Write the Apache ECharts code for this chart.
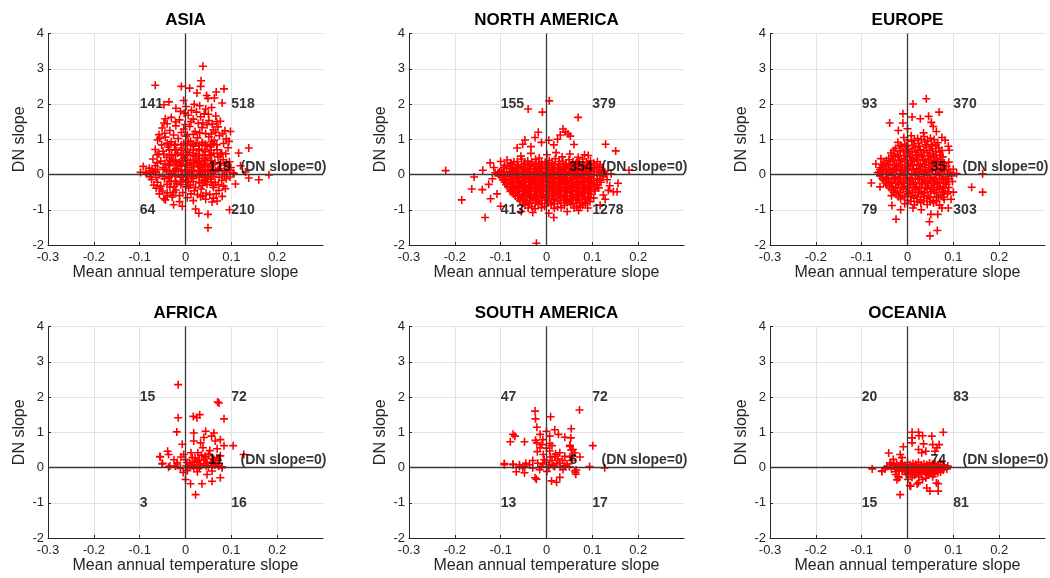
<!DOCTYPE html>
<html><head><meta charset="utf-8">
<script src="https://cdn.jsdelivr.net/npm/echarts@6/dist/echarts.min.js"></script>
<style>html,body{margin:0;padding:0;background:#fff}#c{width:1050px;height:578px}</style>
</head><body><div id="c"></div>
<script>
const regions = ['ASIA','NORTH AMERICA','EUROPE','AFRICA','SOUTH AMERICA','OCEANIA'];
const countsUL = [141,155,93,15,47,20];
const countsUR = [518,379,370,72,72,83];
const countsLL = [64,413,79,3,13,15];
const countsLR = [210,1278,303,16,17,81];
const countsZero = [119,354,35,11,6,74];
const zeroNote = '(DN slope=0)';
const xTicks = [-0.3,-0.2,-0.1,0,0.1,0.2,0.3];
const yTicks = [-2,-1,0,1,2,3,4];

const asiaPts = [
[0.038,3.07],[-0.066,2.53],[-0.009,2.5],[0.009,2.45],[0.034,2.66],[0.033,2.5],[0.084,2.43],[0.067,2.34],[0.046,2.24],[0.049,2.16],[0.025,2.31],[-0.036,2.06],[-0.047,1.98],[-0.004,2.1],[0.08,2.03],[0.063,2.17],[-0.047,1.46],[-0.058,1.13],[-0.056,1.03],[-0.062,0.56],[-0.047,0.57],[-0.092,0.23],[-0.098,0.06],[-0.087,0.06],[-0.076,0.03],[-0.065,0.08],[0.138,0.75],[0.116,0.61],[0.098,1.22],[0.095,0.94],[0.12,0.25],[0.138,-0.1],[0.16,-0.15],[0.182,-0.01],[0.131,0.07],[0.106,0.03],[0.109,-0.27],[0.08,-0.62],[0.096,-1.0],[0.058,-0.78],[0.049,-1.13],[0.049,-1.51],[0.029,-1.1],[0.022,-0.98],[-0.026,-0.86],[-0.007,-0.9],[-0.047,-0.68],[-0.056,-0.4],[-0.04,-0.6],[-0.026,-0.5],
[-0.021,1.88],[0.001,1.93],[0.013,1.82],[0.031,1.95],[0.044,1.86],[0.057,1.9],[0.019,1.99],[-0.011,1.79],
[-0.031,1.62],[-0.013,1.55],[0.006,1.68],[0.017,1.57],[0.033,1.64],[0.051,1.53],[0.066,1.66],[0.041,1.72],[-0.044,1.58],[0.076,1.51],
[-0.051,1.32],[-0.034,1.25],[-0.021,1.38],[-0.004,1.29],[0.009,1.36],[0.021,1.22],[0.036,1.33],[0.047,1.41],[0.061,1.27],[0.071,1.35],[0.086,1.24],[0.028,1.45],
[-0.061,0.98],[-0.044,1.06],[-0.031,0.93],[-0.016,1.02],[0.001,1.09],[0.011,0.95],[0.026,1.04],[0.037,0.91],[0.051,1.07],[0.063,0.97],[0.074,1.1],[0.089,1.01],[0.017,1.14],[0.044,1.16],
[-0.066,0.71],[-0.049,0.66],[-0.038,0.78],[-0.021,0.69],[-0.009,0.75],[0.004,0.63],[0.018,0.8],[0.029,0.72],[0.043,0.65],[0.054,0.79],[0.069,0.7],[0.079,0.61],[0.093,0.76],[0.011,0.84],[0.036,0.86],[0.061,0.87],
[-0.071,0.44],[-0.054,0.38],[-0.041,0.49],[-0.027,0.41],[-0.013,0.35],[-0.002,0.47],[0.011,0.4],[0.021,0.52],[0.035,0.37],[0.047,0.45],[0.057,0.39],[0.071,0.5],[0.082,0.42],[0.096,0.36],[0.004,0.55],[0.029,0.46],[0.052,0.56],
[-0.079,0.18],[-0.066,0.25],[-0.049,0.2],[-0.037,0.29],[-0.021,0.16],[-0.011,0.24],[0.003,0.3],[0.013,0.19],[0.027,0.26],[0.037,0.15],[0.051,0.22],[0.061,0.29],[0.075,0.17],[0.085,0.27],[0.099,0.2],[0.019,0.32],[0.043,0.31],[0.032,0.21],
[-0.084,0.02],[-0.069,0.07],[-0.057,-0.01],[-0.041,0.09],[-0.031,0.03],[-0.016,0.11],[-0.006,-0.02],[0.008,0.06],[0.018,0.12],[0.032,0.01],[0.042,0.08],[0.056,0.04],[0.066,0.1],[0.08,0.0],[0.09,0.07],[0.104,0.05],[0.024,-0.03],[0.048,0.13],
[-0.074,-0.14],[-0.061,-0.22],[-0.046,-0.12],[-0.031,-0.19],[-0.019,-0.26],[-0.005,-0.15],[0.007,-0.21],[0.017,-0.11],[0.031,-0.24],[0.041,-0.16],[0.055,-0.13],[0.065,-0.23],[0.079,-0.17],[0.089,-0.12],[0.011,-0.3],[0.037,-0.31],
[-0.064,-0.39],[-0.051,-0.47],[-0.034,-0.36],[-0.021,-0.44],[-0.006,-0.51],[0.007,-0.38],[0.019,-0.46],[0.034,-0.41],[0.045,-0.53],[0.061,-0.37],[0.073,-0.45],[0.087,-0.4],[0.026,-0.57],
[-0.044,-0.72],[-0.029,-0.64],[-0.013,-0.77],[0.004,-0.66],[0.017,-0.74],[0.033,-0.63],[0.044,-0.7],[0.061,-0.67],[0.069,-0.75]
];
const asiaCorePts = [
[-0.003,1.74],[0.024,1.77],[0.05,1.71],
[-0.04,1.44],[-0.022,1.49],[-0.001,1.42],[0.012,1.5],[0.038,1.47],[0.058,1.43],[0.068,1.5],
[-0.045,1.17],[-0.026,1.12],[-0.009,1.19],[0.004,1.13],[0.031,1.18],[0.056,1.15],[0.066,1.2],[0.081,1.16],
[-0.052,0.84],[-0.04,0.89],[-0.024,0.83],[-0.004,0.88],[0.006,0.93],[0.023,0.89],[0.047,0.82],[0.057,0.93],[0.068,0.84],[0.083,0.88],
[-0.058,0.58],[-0.03,0.55],[-0.017,0.61],[-0.005,0.56],[0.009,0.62],[0.024,0.59],[0.038,0.55],[0.062,0.6],[0.076,0.56],[0.088,0.59],
[-0.062,0.33],[-0.045,0.31],[-0.032,0.36],[-0.019,0.3],[-0.006,0.37],[0.009,0.33],[0.025,0.35],[0.04,0.3],[0.064,0.34],[0.077,0.31],[0.09,0.33],
[-0.073,0.12],[-0.061,0.14],[-0.045,0.15],[-0.026,0.1],[-0.001,0.13],[0.013,0.09],[0.029,0.11],[0.037,0.07],[0.061,0.08],[0.071,0.14],[0.085,0.11],[0.096,0.12],
[-0.078,-0.06],[-0.064,-0.08],[-0.05,-0.05],[-0.036,-0.09],[-0.022,-0.04],[-0.011,-0.08],[0.002,-0.05],[0.013,-0.07],[0.036,-0.06],[0.047,-0.09],[0.061,-0.05],[0.073,-0.08],[0.085,-0.05],[0.097,-0.07],
[-0.069,-0.3],[-0.054,-0.33],[-0.04,-0.28],[-0.025,-0.34],[-0.01,-0.29],[0.001,-0.35],[0.022,-0.36],[0.047,-0.28],[0.06,-0.31],[0.072,-0.29],[0.083,-0.33],
[-0.057,-0.55],[-0.04,-0.52],[-0.028,-0.58],[-0.013,-0.6],[0.012,-0.55],[0.038,-0.6],[0.053,-0.57],[0.067,-0.55]
];
const asiaDensePts = [
[-0.035,0.85],[-0.022,0.86],[-0.009,0.84],[0.004,0.86],[0.017,0.85],[0.03,0.83],[0.043,0.86],[0.056,0.84],
[-0.035,0.7],[-0.022,0.71],[-0.009,0.69],[0.004,0.71],[0.017,0.7],[0.03,0.68],[0.043,0.71],[0.056,0.69],
[-0.035,0.55],[-0.022,0.56],[-0.009,0.54],[0.004,0.56],[0.017,0.55],[0.03,0.53],[0.043,0.56],[0.056,0.54],
[-0.035,0.4],[-0.022,0.41],[-0.009,0.39],[0.004,0.41],[0.017,0.4],[0.03,0.38],[0.043,0.41],[0.056,0.39],
[-0.035,0.25],[-0.022,0.26],[-0.009,0.24],[0.004,0.26],[0.017,0.25],[0.03,0.23],[0.043,0.26],[0.056,0.24],
[-0.035,0.1],[-0.022,0.11],[-0.009,0.09],[0.004,0.11],[0.017,0.1],[0.03,0.08],[0.043,0.11],[0.056,0.09],
[-0.035,-0.05],[-0.022,-0.04],[-0.009,-0.06],[0.004,-0.04],[0.017,-0.05],[0.03,-0.07],[0.043,-0.04],[0.056,-0.06],
[-0.035,-0.2],[-0.022,-0.19],[-0.009,-0.21],[0.004,-0.19],[0.017,-0.2],[0.03,-0.22],[0.043,-0.19],[0.056,-0.21]
];

const northAmericaPts = [
[0.006,2.09],[-0.04,1.86],[-0.009,1.77],[0.069,1.62],[-0.22,0.11],[-0.185,-0.72],[-0.163,-0.41],[-0.158,-0.07],[-0.139,0.12],[-0.14,-0.43],[-0.134,-1.22],[-0.122,-0.69],[-0.123,0.33],[-0.126,-0.28],[-0.1,0.37],[-0.1,-0.9],[-0.022,-1.95],[0.016,-1.22],[0.129,0.86],[0.151,0.67],[0.156,-0.25],[0.154,-0.49],[0.146,-0.49],[0.135,-0.45],[0.124,-0.58],[0.117,-0.87],[0.109,-0.3],[0.095,-0.77],[0.036,1.29],[0.047,1.15],[0.024,1.0],[0.016,0.84],[-0.025,1.05],[-0.052,0.86],[-0.047,0.98],[-0.018,1.2],[-0.064,0.75],[0.083,0.56],[0.06,0.85],[0.18,0.12],
[0.041,1.21],[0.052,1.09],[0.03,1.12],[-0.034,0.79],[-0.011,0.91],[0.005,0.97],[-0.118,-0.12],[-0.112,0.05],[-0.108,-0.55],[-0.115,0.2],[0.132,-0.15],[0.141,0.02],[0.128,-0.7],[0.138,-0.32],[-0.055,-1.05],[0.005,-1.1],[0.045,-1.05],[0.07,-1.02],[-0.03,-1.08],[0.09,-0.95],
[-0.056,0.52],[-0.034,0.6],[-0.016,0.47],[0.001,0.56],[0.021,0.62],[0.034,0.5],[0.051,0.58],[0.069,0.49],[0.091,0.54],
[-0.086,0.41],[-0.071,0.36],[-0.054,0.44],[-0.041,0.38],[-0.024,0.43],[-0.011,0.35],[0.006,0.4],[0.019,0.45],[0.036,0.37],[0.049,0.42],[0.066,0.35],[0.079,0.44],[0.096,0.39],[0.111,0.36],
[-0.091,0.26],[-0.077,0.3],[-0.061,0.23],[-0.049,0.29],[-0.038,0.25],[-0.023,0.31],[-0.013,0.22],[0.001,0.28],[0.012,0.24],[0.027,0.3],[0.038,0.23],[0.053,0.27],[0.064,0.31],[0.079,0.24],[0.09,0.29],[0.105,0.25],[0.117,0.28],
[-0.099,0.12],[-0.087,0.17],[-0.072,0.11],[-0.061,0.15],[-0.046,0.1],[-0.035,0.16],[-0.02,0.13],[-0.009,0.18],[0.006,0.11],[0.017,0.15],[0.032,0.12],[0.043,0.17],[0.058,0.1],[0.069,0.14],[0.084,0.18],[0.095,0.11],[0.11,0.15],[0.121,0.12],
[-0.106,0.03],[-0.091,-0.01],[-0.08,0.05],[-0.065,0.0],[-0.054,0.04],[-0.039,-0.02],[-0.028,0.06],[-0.013,0.01],[-0.002,0.05],[0.013,-0.01],[0.024,0.04],[0.039,0.0],[0.05,0.06],[0.065,0.02],[0.076,-0.02],[0.091,0.04],[0.102,0.0],[0.117,0.05],[0.131,0.01],
[-0.097,-0.09],[-0.086,-0.13],[-0.071,-0.08],[-0.06,-0.12],[-0.045,-0.07],[-0.034,-0.14],[-0.019,-0.1],[-0.008,-0.06],[0.007,-0.12],[0.018,-0.08],[0.033,-0.13],[0.044,-0.09],[0.059,-0.06],[0.07,-0.11],[0.085,-0.14],[0.096,-0.08],[0.111,-0.12],[0.123,-0.07],
[-0.091,-0.22],[-0.078,-0.26],[-0.064,-0.2],[-0.052,-0.25],[-0.038,-0.21],[-0.026,-0.27],[-0.012,-0.23],[0.001,-0.19],[0.014,-0.25],[0.026,-0.21],[0.04,-0.26],[0.052,-0.2],[0.066,-0.24],[0.078,-0.27],[0.092,-0.21],[0.104,-0.25],[0.119,-0.22],
[-0.084,-0.35],[-0.072,-0.39],[-0.058,-0.33],[-0.046,-0.38],[-0.032,-0.34],[-0.02,-0.4],[-0.006,-0.36],[0.007,-0.32],[0.02,-0.38],[0.032,-0.35],[0.046,-0.39],[0.058,-0.33],[0.072,-0.37],[0.084,-0.4],[0.098,-0.34],[0.114,-0.38],
[-0.079,-0.48],[-0.066,-0.52],[-0.052,-0.46],[-0.04,-0.51],[-0.026,-0.47],[-0.014,-0.53],[0.0,-0.49],[0.013,-0.45],[0.026,-0.51],[0.038,-0.48],[0.052,-0.52],[0.064,-0.46],[0.078,-0.5],[0.09,-0.53],[0.106,-0.47],
[-0.068,-0.61],[-0.054,-0.65],[-0.041,-0.59],[-0.027,-0.64],[-0.015,-0.6],[-0.001,-0.66],[0.012,-0.62],[0.025,-0.58],[0.039,-0.64],[0.051,-0.61],[0.065,-0.66],[0.077,-0.6],[0.091,-0.63],[0.103,-0.67],
[-0.058,-0.74],[-0.044,-0.78],[-0.03,-0.72],[-0.017,-0.77],[-0.003,-0.73],[0.011,-0.79],[0.024,-0.75],[0.038,-0.71],[0.051,-0.77],[0.064,-0.74],[0.078,-0.79],[0.089,-0.72],
[-0.047,-0.87],[-0.032,-0.91],[-0.018,-0.85],[-0.004,-0.9],[0.01,-0.86],[0.024,-0.92],[0.039,-0.88],[0.053,-0.84],[0.066,-0.9],[0.079,-0.87]
];
const northAmericaCorePts = [
[-0.078,0.33],[-0.064,0.37],[-0.047,0.32],[-0.032,0.36],[-0.017,0.31],[-0.003,0.35],[0.012,0.33],[0.028,0.37],[0.042,0.31],[0.058,0.36],[0.072,0.32],[0.087,0.35],[0.103,0.32],
[-0.093,0.2],[-0.08,0.22],[-0.066,0.19],[-0.054,0.21],[-0.041,0.19],[-0.028,0.22],[-0.015,0.19],[-0.002,0.21],[0.011,0.19],[0.024,0.2],[0.037,0.18],[0.05,0.21],[0.063,0.19],[0.076,0.22],[0.089,0.2],[0.103,0.19],[0.116,0.21],
[-0.103,0.08],[-0.094,0.06],[-0.079,0.09],[-0.068,0.07],[-0.053,0.09],[-0.041,0.07],[-0.027,0.09],[-0.016,0.07],[-0.001,0.09],[0.01,0.06],[0.025,0.09],[0.037,0.07],[0.051,0.09],[0.063,0.07],[0.078,0.09],[0.089,0.07],[0.104,0.09],[0.115,0.07],[0.127,0.08],
[-0.102,-0.04],[-0.085,-0.05],[-0.073,-0.03],[-0.059,-0.05],[-0.046,-0.03],[-0.033,-0.05],[-0.02,-0.03],[-0.007,-0.04],[0.006,-0.05],[0.019,-0.03],[0.032,-0.05],[0.045,-0.03],[0.058,-0.04],[0.071,-0.05],[0.084,-0.03],[0.097,-0.05],[0.11,-0.03],[0.124,-0.04],
[-0.094,-0.16],[-0.079,-0.17],[-0.066,-0.15],[-0.053,-0.17],[-0.04,-0.15],[-0.027,-0.17],[-0.014,-0.16],[-0.001,-0.15],[0.012,-0.17],[0.025,-0.15],[0.038,-0.17],[0.051,-0.16],[0.064,-0.15],[0.077,-0.17],[0.09,-0.15],[0.103,-0.17],[0.116,-0.16],
[-0.088,-0.29],[-0.071,-0.3],[-0.058,-0.28],[-0.045,-0.3],[-0.032,-0.28],[-0.019,-0.3],[-0.006,-0.29],[0.007,-0.27],[0.02,-0.3],[0.033,-0.28],[0.046,-0.3],[0.059,-0.29],[0.072,-0.28],[0.085,-0.3],[0.098,-0.28],[0.111,-0.3],
[-0.079,-0.42],[-0.065,-0.43],[-0.052,-0.41],[-0.039,-0.43],[-0.026,-0.41],[-0.013,-0.43],[0.0,-0.42],[0.013,-0.4],[0.026,-0.43],[0.039,-0.41],[0.052,-0.43],[0.065,-0.42],[0.078,-0.41],[0.091,-0.43],[0.104,-0.42],
[-0.072,-0.55],[-0.059,-0.56],[-0.046,-0.54],[-0.033,-0.56],[-0.02,-0.54],[-0.007,-0.56],[0.006,-0.55],[0.019,-0.53],[0.032,-0.56],[0.045,-0.54],[0.058,-0.56],[0.071,-0.55],[0.084,-0.54],[0.097,-0.56],
[-0.062,-0.68],[-0.049,-0.69],[-0.036,-0.67],[-0.023,-0.69],[-0.01,-0.67],[0.004,-0.69],[0.017,-0.68],[0.03,-0.66],[0.044,-0.69],[0.057,-0.67],[0.07,-0.69],[0.084,-0.68],[0.096,-0.66],
[-0.051,-0.81],[-0.037,-0.82],[-0.024,-0.8],[-0.01,-0.82],[0.004,-0.8],[0.017,-0.83],[0.031,-0.81],[0.045,-0.79],[0.058,-0.82],[0.072,-0.8],[0.085,-0.82],
[-0.04,-0.95],[-0.025,-0.97],[-0.011,-0.94],[0.017,-0.96],[0.032,-0.94],[0.06,-0.95],[0.074,-0.93]
];
const northAmericaDensePts = [
[-0.075,0.28],[-0.062,0.27],[-0.049,0.29],[-0.036,0.28],[-0.023,0.27],[-0.01,0.29],[0.003,0.28],[0.016,0.27],[0.029,0.29],[0.042,0.28],[0.055,0.27],[0.068,0.29],[0.081,0.28],[0.094,0.27],
[-0.075,0.15],[-0.062,0.14],[-0.049,0.16],[-0.036,0.15],[-0.023,0.14],[-0.01,0.16],[0.003,0.15],[0.016,0.14],[0.029,0.16],[0.042,0.15],[0.055,0.14],[0.068,0.16],[0.081,0.15],[0.094,0.14],
[-0.075,0.02],[-0.062,0.01],[-0.049,0.03],[-0.036,0.02],[-0.023,0.01],[-0.01,0.03],[0.003,0.02],[0.016,0.01],[0.029,0.03],[0.042,0.02],[0.055,0.01],[0.068,0.03],[0.081,0.02],[0.094,0.01],
[-0.075,-0.1],[-0.062,-0.11],[-0.049,-0.09],[-0.036,-0.1],[-0.023,-0.11],[-0.01,-0.09],[0.003,-0.1],[0.016,-0.11],[0.029,-0.09],[0.042,-0.1],[0.055,-0.11],[0.068,-0.09],[0.081,-0.1],[0.094,-0.11],
[-0.075,-0.22],[-0.062,-0.23],[-0.049,-0.21],[-0.036,-0.22],[-0.023,-0.23],[-0.01,-0.21],[0.003,-0.22],[0.016,-0.23],[0.029,-0.21],[0.042,-0.22],[0.055,-0.23],[0.068,-0.21],[0.081,-0.22],[0.094,-0.23],
[-0.075,-0.35],[-0.062,-0.36],[-0.049,-0.34],[-0.036,-0.35],[-0.023,-0.36],[-0.01,-0.34],[0.003,-0.35],[0.016,-0.36],[0.029,-0.34],[0.042,-0.35],[0.055,-0.36],[0.068,-0.34],[0.081,-0.35],[0.094,-0.36],
[-0.075,-0.48],[-0.062,-0.49],[-0.049,-0.47],[-0.036,-0.48],[-0.023,-0.49],[-0.01,-0.47],[0.003,-0.48],[0.016,-0.49],[0.029,-0.47],[0.042,-0.48],[0.055,-0.49],[0.068,-0.47],[0.081,-0.48],[0.094,-0.49],
[-0.062,-0.61],[-0.049,-0.6],[-0.036,-0.62],[-0.023,-0.61],[-0.01,-0.6],[0.003,-0.62],[0.016,-0.61],[0.029,-0.6],[0.042,-0.62],[0.055,-0.61],[0.068,-0.6],[0.081,-0.62],
[-0.049,-0.73],[-0.036,-0.74],[-0.023,-0.72],[-0.01,-0.73],[0.003,-0.74],[0.016,-0.72],[0.029,-0.73],[0.042,-0.74],[0.055,-0.72],[0.068,-0.73]
];

const europePts = [
[0.041,2.15],[0.012,2.0],[0.069,1.77],[-0.01,1.72],[-0.039,1.46],[-0.01,1.46],[0.01,1.63],[0.028,1.58],[0.046,1.65],[0.052,1.48],[0.056,1.36],[-0.069,0.3],[-0.079,-0.24],[-0.046,0.14],[-0.046,-0.13],[-0.035,-0.6],[-0.034,-0.88],[-0.025,-1.27],[-0.006,-0.83],[0.048,-1.34],[0.049,-1.74],[0.065,-1.59],[0.051,-1.13],[0.066,-1.13],[0.089,-0.95],[0.107,0.03],[0.14,-0.36],[0.164,0.02],[0.164,-0.5],[0.091,0.69],[0.089,0.8],[0.082,0.97],[0.063,1.22],
[-0.02,1.25],[0.0,1.3],[0.035,1.18],[0.075,1.05],[-0.058,0.45],[-0.065,0.05],[-0.06,-0.35],[0.098,-0.2],[0.1,-0.5],[0.095,-0.7],[0.075,-0.95],[0.03,-1.0],[0.012,-0.95],[-0.015,-1.0],[0.09,0.35],[0.1,0.15],
[-0.008,1.05],[0.008,1.1],[0.022,1.02],[0.036,1.08],[0.05,1.03],
[-0.021,0.91],[-0.006,0.86],[0.009,0.94],[0.024,0.88],[0.038,0.92],[0.052,0.85],[0.066,0.9],
[-0.026,0.74],[-0.012,0.79],[0.002,0.72],[0.015,0.77],[0.028,0.71],[0.041,0.78],[0.054,0.73],[0.068,0.76],
[-0.036,0.61],[-0.022,0.57],[-0.009,0.64],[0.004,0.59],[0.017,0.63],[0.03,0.56],[0.043,0.62],[0.056,0.58],[0.07,0.63],
[-0.041,0.46],[-0.027,0.5],[-0.014,0.44],[-0.001,0.49],[0.012,0.45],[0.025,0.51],[0.038,0.43],[0.051,0.48],[0.064,0.45],[0.077,0.5],
[-0.051,0.33],[-0.037,0.37],[-0.024,0.31],[-0.011,0.36],[0.002,0.32],[0.015,0.38],[0.028,0.3],[0.041,0.35],[0.054,0.32],[0.067,0.37],[0.08,0.31],
[-0.058,0.2],[-0.045,0.24],[-0.032,0.18],[-0.019,0.23],[-0.006,0.19],[0.007,0.25],[0.02,0.17],[0.033,0.22],[0.046,0.19],[0.059,0.24],[0.072,0.18],[0.085,0.23],
[-0.062,0.07],[-0.049,0.11],[-0.036,0.05],[-0.023,0.1],[-0.01,0.06],[0.003,0.12],[0.016,0.04],[0.029,0.09],[0.042,0.06],[0.055,0.11],[0.068,0.05],[0.081,0.1],[0.094,0.06],
[-0.06,-0.04],[-0.047,-0.08],[-0.034,-0.02],[-0.021,-0.07],[-0.008,-0.03],[0.005,-0.09],[0.018,-0.01],[0.031,-0.06],[0.044,-0.03],[0.057,-0.08],[0.07,-0.02],[0.083,-0.07],[0.096,-0.04],
[-0.052,-0.17],[-0.039,-0.21],[-0.026,-0.15],[-0.013,-0.2],[0.0,-0.16],[0.013,-0.22],[0.026,-0.14],[0.039,-0.19],[0.052,-0.16],[0.065,-0.21],[0.078,-0.15],[0.09,-0.2],
[-0.045,-0.3],[-0.032,-0.34],[-0.019,-0.28],[-0.006,-0.33],[0.007,-0.29],[0.02,-0.35],[0.033,-0.27],[0.046,-0.32],[0.059,-0.29],[0.072,-0.34],[0.085,-0.28],
[-0.035,-0.43],[-0.022,-0.47],[-0.009,-0.41],[0.004,-0.46],[0.017,-0.42],[0.03,-0.48],[0.043,-0.4],[0.056,-0.45],[0.069,-0.42],[0.082,-0.47],
[-0.025,-0.56],[-0.011,-0.6],[0.003,-0.54],[0.017,-0.59],[0.031,-0.55],[0.045,-0.61],[0.059,-0.53],[0.073,-0.58],[0.087,-0.55],
[-0.015,-0.69],[0.0,-0.73],[0.014,-0.67],[0.028,-0.72],[0.042,-0.68],[0.056,-0.74],[0.068,-0.66],[0.08,-0.71],
[0.0,-0.82],[0.015,-0.86],[0.029,-0.8],[0.043,-0.85],[0.057,-0.81],[0.07,-0.87]
];
const europeCorePts = [
[0.0,0.98],[0.015,0.97],[0.03,0.99],[0.044,0.96],[0.058,0.99],
[-0.016,0.82],[-0.002,0.81],[0.012,0.83],[0.026,0.8],[0.04,0.84],[0.054,0.81],[0.062,0.83],
[-0.03,0.68],[-0.016,0.67],[-0.003,0.69],[0.01,0.66],[0.023,0.68],[0.036,0.67],[0.049,0.69],[0.062,0.66],[0.075,0.68],
[-0.034,0.54],[-0.02,0.52],[-0.007,0.54],[0.006,0.52],[0.019,0.55],[0.032,0.52],[0.045,0.54],[0.058,0.52],[0.071,0.55],
[-0.046,0.4],[-0.031,0.41],[-0.018,0.39],[-0.005,0.41],[0.008,0.39],[0.021,0.42],[0.034,0.4],[0.047,0.41],[0.06,0.39],[0.073,0.42],
[-0.055,0.27],[-0.041,0.28],[-0.028,0.26],[-0.015,0.27],[-0.002,0.25],[0.011,0.28],[0.024,0.26],[0.037,0.28],[0.05,0.26],[0.063,0.28],[0.076,0.26],
[-0.06,0.14],[-0.052,0.15],[-0.039,0.13],[-0.026,0.15],[-0.013,0.13],[0.0,0.16],[0.013,0.14],[0.026,0.15],[0.039,0.13],[0.052,0.15],[0.065,0.13],[0.078,0.15],[0.09,0.14],
[-0.056,0.01],[-0.043,0.02],[-0.03,0.0],[-0.017,0.02],[-0.004,0.0],[0.009,0.02],[0.022,0.01],[0.035,0.03],[0.048,0.0],[0.061,0.02],[0.074,0.0],[0.087,0.02],
[-0.055,-0.11],[-0.042,-0.12],[-0.029,-0.1],[-0.016,-0.12],[-0.003,-0.1],[0.01,-0.13],[0.023,-0.11],[0.036,-0.12],[0.049,-0.1],[0.062,-0.12],[0.075,-0.11],[0.088,-0.12],
[-0.048,-0.24],[-0.035,-0.25],[-0.022,-0.23],[-0.009,-0.25],[0.004,-0.23],[0.017,-0.26],[0.03,-0.24],[0.043,-0.25],[0.056,-0.23],[0.069,-0.25],[0.082,-0.24],
[-0.04,-0.37],[-0.026,-0.38],[-0.013,-0.36],[0.0,-0.38],[0.013,-0.36],[0.026,-0.39],[0.039,-0.37],[0.052,-0.38],[0.065,-0.36],[0.078,-0.38],[0.09,-0.37],
[-0.03,-0.5],[-0.016,-0.51],[-0.002,-0.49],[0.011,-0.51],[0.024,-0.5],[0.037,-0.52],[0.05,-0.49],[0.063,-0.51],[0.076,-0.5],[0.088,-0.49],
[-0.02,-0.63],[-0.006,-0.64],[0.008,-0.62],[0.022,-0.64],[0.036,-0.62],[0.05,-0.65],[0.064,-0.63],[0.078,-0.64],
[0.007,-0.76],[0.021,-0.77],[0.035,-0.75],[0.049,-0.77],[0.063,-0.76]
];

const africaPts = [
[-0.016,2.35],[0.073,1.83],[0.07,1.86],[0.084,1.38],[-0.016,1.41],[0.017,1.45],[0.031,1.5],[0.025,1.41],[-0.019,1.01],[0.018,0.98],[0.044,1.03],[0.062,0.98],[0.076,0.79],[0.104,0.62],[0.127,0.37],[-0.039,0.46],[-0.037,0.37],[-0.055,0.3],[-0.05,0.12],[-0.034,0.04],[-0.007,0.66],[-0.004,0.37],[0.0,0.22],[0.009,0.13],[0.021,0.27],[0.027,0.42],[0.038,0.56],[0.033,0.7],[0.018,0.75],[0.04,0.85],[0.057,0.89],[0.065,0.75],[0.084,0.62],[0.069,0.53],[0.053,0.48],[0.076,0.33],[0.062,0.22],[0.047,0.13],[0.033,0.04],[0.018,-0.03],[0.004,-0.09],[0.011,0.09],[0.025,0.18],[0.044,0.27],[0.058,0.04],[0.073,0.04],[0.08,0.02],[-0.011,-0.03],[-0.022,0.04],[-0.005,-0.14],
[0.0,-0.34],[0.022,-0.77],[0.011,-0.46],[0.036,-0.46],[0.058,-0.39],[0.076,-0.29],[0.047,-0.2],[0.026,-0.12],[0.058,-0.1],[0.08,-0.005],[-0.056,0.31],[-0.051,0.1],[-0.037,0.01],[-0.018,0.14],[0.003,0.14],[-0.018,0.1],[0.014,0.06],[0.03,0.21],[0.043,0.32],[0.058,0.25],[0.071,0.21],[0.064,0.07],[0.05,0.03],[0.03,-0.01],[0.04,0.11],
[0.02,0.15],[0.03,0.08],[0.04,0.2],[0.045,0.05],[0.055,0.15],[0.065,0.1],[0.015,0.28],[0.035,0.35],[0.05,0.38],[0.06,0.12],[0.025,0.02],[0.008,0.04],[0.072,0.06],[0.068,0.28],[0.012,0.42],[-0.01,0.3],[-0.025,0.22],[0.002,0.05]
];

const southAmericaPts = [
[0.072,1.63],[-0.025,1.6],[-0.024,1.38],[0.009,1.44],[-0.021,1.14],[-0.073,0.94],[-0.069,0.89],[-0.079,0.73],[-0.048,0.73],[-0.024,0.77],[-0.014,0.94],[-0.008,0.79],[0.0,1.03],[0.007,0.89],[0.018,1.07],[0.026,0.94],[0.04,0.86],[0.054,1.1],[0.053,0.84],[0.051,0.6],[0.058,0.51],[0.062,0.42],[0.056,0.32],[0.101,0.62],[0.094,0.03],[0.127,-0.01],[0.065,-0.07],[0.063,-0.14],[-0.092,0.08],[-0.073,0.1],[-0.059,0.08],[-0.048,0.03],[-0.037,0.08],[-0.03,-0.01],[-0.019,0.12],[-0.012,0.03],[0.007,0.08],[0.018,0.03],[0.029,0.12],[0.04,0.05],[0.018,0.32],[0.029,0.42],[0.007,0.47],[-0.007,0.37],[-0.014,0.56],[-0.01,0.65],[-0.021,0.7],[0.007,0.68],
[-0.092,0.11],[-0.073,0.08],[-0.052,-0.01],[-0.048,-0.15],[-0.025,-0.29],[-0.022,-0.33],[0.011,-0.38],[0.022,-0.42],[0.029,-0.28],[0.062,-0.1],[0.064,-0.19],[-0.066,-0.12],[-0.059,0.03],[-0.015,-0.06],[0.001,-0.11],[0.036,-0.06],[0.051,0.3],[0.073,0.3],[0.051,0.63],[0.054,0.5],
[0.0,0.15],[0.012,0.2],[0.022,0.1],[0.005,0.02],[-0.005,0.22],[0.015,0.05],[0.025,0.25],[0.035,0.2],[0.045,0.1],[0.03,0.02],[-0.008,0.1],[0.008,0.3],[0.02,0.38],[0.04,0.32],[-0.02,0.45],[0.0,0.55],[0.012,0.62],[-0.03,0.2],[-0.045,0.12],[0.05,0.02],[0.055,0.2]
];

const oceaniaPts = [
[0.078,1.0],[0.01,1.0],[0.024,1.0],[0.025,0.9],[0.01,0.84],[0.033,0.9],[0.053,0.89],[0.01,0.7],[0.035,0.67],[0.055,0.65],[0.069,0.65],[0.064,0.56],[0.024,0.51],[0.031,0.42],[0.04,0.46],[0.06,0.46],[-0.009,0.59],[-0.016,0.37],[-0.041,0.41],[-0.012,0.28],[-0.031,0.23],[-0.077,-0.04],[-0.056,-0.1],[-0.049,-0.04],[-0.038,0.13],[-0.023,0.08],[-0.012,0.13],[-0.003,-0.2],[0.001,-0.34],[0.005,-0.51],[0.024,-0.43],[0.033,-0.34],[0.067,-0.46],[-0.019,-0.29],[-0.026,-0.2],
[-0.016,-0.77],[0.007,-0.53],[0.042,-0.58],[0.049,-0.67],[0.067,-0.67],[0.063,-0.44],[0.021,-0.47],[-0.023,-0.35],[-0.02,-0.26],[-0.056,-0.11],
[-0.03,0.12],[-0.015,0.1],[0.0,0.14],[0.012,0.11],[0.024,0.15],[0.036,0.1],[0.048,0.13],[0.06,0.11],[0.072,0.14],
[-0.045,0.03],[-0.03,0.05],[-0.018,0.02],[-0.006,0.06],[0.006,0.03],[0.018,0.05],[0.03,0.02],[0.042,0.06],[0.054,0.03],[0.066,0.05],[0.078,0.02],[0.088,0.04],
[-0.035,-0.04],[-0.022,-0.02],[-0.01,-0.05],[0.002,-0.03],[0.014,-0.06],[0.026,-0.02],[0.038,-0.05],[0.05,-0.03],[0.062,-0.06],[0.074,-0.02],[0.086,-0.04],
[-0.025,-0.12],[-0.012,-0.1],[0.0,-0.13],[0.012,-0.11],[0.024,-0.14],[0.036,-0.1],[0.048,-0.13],[0.06,-0.11],[0.072,-0.13],
[0.0,-0.2],[0.015,-0.22],[0.03,-0.19],[0.045,-0.21],[0.058,-0.18],
[0.01,-0.28],[0.025,-0.27],[0.04,-0.3],[0.055,-0.26]
];
const oceaniaCorePts = [
[-0.036,0.08],[-0.024,0.09],[-0.012,0.07],[0.006,0.08],[0.018,0.09],[0.03,0.07],[0.042,0.08],[0.054,0.09],[0.066,0.07],[0.078,0.08],
[-0.028,0.0],[-0.016,-0.01],[-0.004,0.01],[0.008,0.0],[0.02,-0.01],[0.032,0.01],[0.044,0.0],[0.056,-0.01],[0.068,0.01],[0.08,0.0],
[-0.018,-0.08],[-0.006,-0.09],[0.006,-0.07],[0.018,-0.08],[0.03,-0.09],[0.042,-0.07],[0.054,-0.08],[0.066,-0.09],[0.078,-0.07],
[0.006,-0.16],[0.018,-0.17],[0.03,-0.15],[0.042,-0.16],[0.054,-0.17],[0.066,-0.15]
];

const allPts = [
  asiaPts.concat(asiaCorePts, asiaDensePts),
  northAmericaPts.concat(northAmericaCorePts, northAmericaDensePts),
  europePts.concat(europeCorePts),
  africaPts,
  southAmericaPts,
  oceaniaPts.concat(oceaniaCorePts)
];

const FONT = "'Liberation Sans', Arial, Helvetica, sans-serif";
const colLeft = [48, 409, 770];
const rowTop = [33.5, 326.5];
const W = 275, H = 211.5;
const titleTop = [11.5, 304.5];
const AX = '#262626';
const ARM = 4;

function renderCross(params, api) {
  const p = api.coord([api.value(0), api.value(1)]);
  return {
    type: 'path',
    shape: {pathData: 'M' + (p[0] - ARM) + ',' + p[1] + 'L' + (p[0] + ARM) + ',' + p[1] +
                      'M' + p[0] + ',' + (p[1] - ARM) + 'L' + p[0] + ',' + (p[1] + ARM)},
    style: {stroke: '#ff0000', fill: null, lineWidth: 1.6}
  };
}

const grid = [], xAxis = [], yAxis = [], series = [], title = [];
regions.forEach((name, i) => {
  const c = i % 3, r = Math.floor(i / 3);
  grid.push({left: colLeft[c], top: rowTop[r], width: W, height: H, containLabel: false});
  title.push({text: name, left: colLeft[c] + W / 2, top: titleTop[r], textAlign: 'center', padding: 0,
    textStyle: {fontSize: 17, fontWeight: 'bold', color: '#000', fontFamily: FONT}});
  xAxis.push({gridIndex: i, type: 'value', min: xTicks[0], max: xTicks[xTicks.length - 1], interval: 0.1,
    name: 'Mean annual temperature slope', nameLocation: 'middle', nameGap: 20,
    nameTextStyle: {fontSize: 16, color: AX, fontFamily: FONT},
    axisLine: {onZero: false, lineStyle: {color: AX, width: 1}},
    axisTick: {inside: true, length: 3, lineStyle: {color: AX}},
    axisLabel: {fontSize: 13, color: AX, margin: 6, showMaxLabel: false, fontFamily: FONT,
      formatter: v => String(Math.round(v * 10) / 10)},
    splitLine: {show: true, showMaxLine: false, lineStyle: {color: '#e2e2e2', width: 1}}
  });
  yAxis.push({gridIndex: i, type: 'value', min: yTicks[0], max: yTicks[yTicks.length - 1], interval: 1,
    name: 'DN slope', nameLocation: 'middle', nameGap: 20,
    nameTextStyle: {fontSize: 16, color: AX, fontFamily: FONT},
    axisLine: {onZero: false, lineStyle: {color: AX, width: 1}},
    axisTick: {inside: true, length: 3, lineStyle: {color: AX}},
    axisLabel: {fontSize: 13, color: AX, margin: 4, fontFamily: FONT},
    splitLine: {show: true, lineStyle: {color: '#e2e2e2', width: 1}}
  });
  series.push({type: 'custom', xAxisIndex: i, yAxisIndex: i, data: allPts[i],
    renderItem: renderCross, silent: true, animation: false, z: 2, clip: true,
    encode: {x: 0, y: 1}
  });
  const texts = [
    {name: String(countsUL[i]), value: [-0.1, 2]},
    {name: String(countsUR[i]), value: [0.1, 2]},
    {name: String(countsLL[i]), value: [-0.1, -1]},
    {name: String(countsLR[i]), value: [0.1, -1]},
    {name: String(countsZero[i]), value: [0.05, 0.2]},
    {name: zeroNote, value: [0.12, 0.2]}
  ];
  series.push({type: 'scatter', xAxisIndex: i, yAxisIndex: i, data: texts, symbolSize: 0,
    itemStyle: {color: 'transparent'}, silent: true, animation: false, z: 10, clip: false,
    label: {show: true, position: 'right', distance: 0, formatter: '{b}',
      fontSize: 14, fontWeight: 'bold', color: '#000', fontFamily: FONT},
    markLine: {silent: true, symbol: 'none', animation: false, label: {show: false},
      lineStyle: {color: '#383838', width: 1.3, type: 'solid'},
      data: [{xAxis: 0}, {yAxis: 0}]}
  });
});

const chart = echarts.init(document.getElementById('c'), null, {renderer: 'canvas'});
chart.setOption({backgroundColor: '#fff', animation: false, title, grid, xAxis, yAxis, series});
</script>
</body></html>
